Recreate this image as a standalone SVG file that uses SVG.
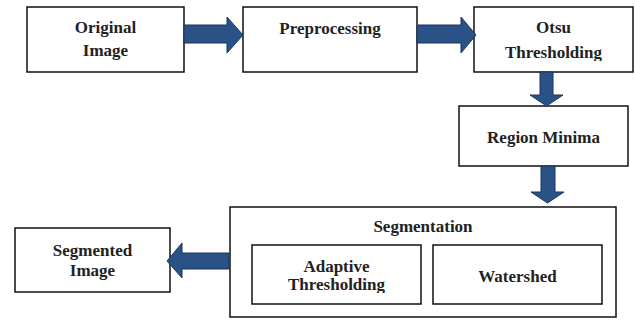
<svg xmlns="http://www.w3.org/2000/svg" width="635" height="322" viewBox="0 0 635 322">
<defs>
<style>
.box{fill:#fff;stroke:#111;stroke-width:1.5}
.t{font-family:'Liberation Serif','Times New Roman',serif;font-weight:bold;font-size:17px;fill:#222;text-anchor:middle}
.arr{fill:#2A5287;stroke:#1B355C;stroke-width:1}
</style>
<clipPath id="c1"><rect x="474" y="40" width="159" height="21"/></clipPath>
<clipPath id="c2"><rect x="252" y="275" width="169" height="18"/></clipPath>
</defs>
<rect width="635" height="322" fill="#fff"/>
<g id="original">
<rect class="box" x="27" y="7" width="157" height="65"/>
<text class="t" x="105.5" y="33">Original</text>
<text class="t" x="105.5" y="56">Image</text>
</g>
<g id="preprocessing">
<rect class="box" x="243" y="7" width="174" height="65"/>
<text class="t" x="330" y="34">Preprocessing</text>
</g>
<g id="otsu">
<rect class="box" x="474" y="7" width="159" height="65"/>
<text class="t" x="553.5" y="33">Otsu</text>
<text class="t" x="553.5" y="58" clip-path="url(#c1)">Thresholding</text>
</g>
<g id="regionminima">
<rect class="box" x="459" y="106" width="169" height="60"/>
<text class="t" x="543.5" y="143">Region Minima</text>
</g>
<g id="segmentation">
<rect class="box" x="230" y="207" width="386" height="110"/>
<text class="t" x="423" y="232">Segmentation</text>
<g id="adaptive">
<rect class="box" x="252" y="245" width="169" height="59"/>
<text class="t" x="336.5" y="272">Adaptive</text>
<text class="t" x="336.5" y="290" clip-path="url(#c2)">Thresholding</text>
</g>
<g id="watershed">
<rect class="box" x="433" y="245" width="169" height="59"/>
<text class="t" x="517.5" y="282">Watershed</text>
</g>
</g>
<g id="segmented">
<rect class="box" x="15" y="228" width="155" height="64"/>
<text class="t" x="92.5" y="256">Segmented</text>
<text class="t" x="92.5" y="276">Image</text>
</g>
<g id="connectors">
<polygon class="arr" points="184,25 227,25 227,17 243,35 227,53 227,43 184,43"/>
<polygon class="arr" points="417,25 461,25 461,17 476,35 461,53 461,43 417,43"/>
<polygon class="arr" points="540,72 553,72 553,95 563,95 546.5,106 530,95 540,95"/>
<polygon class="arr" points="541,166 555,166 555,192 564,192 547.5,203 531,192 541,192"/>
<polygon class="arr" points="229,253 182,253 182,243 167,261 182,278 182,269 229,269"/>
</g>
</svg>
